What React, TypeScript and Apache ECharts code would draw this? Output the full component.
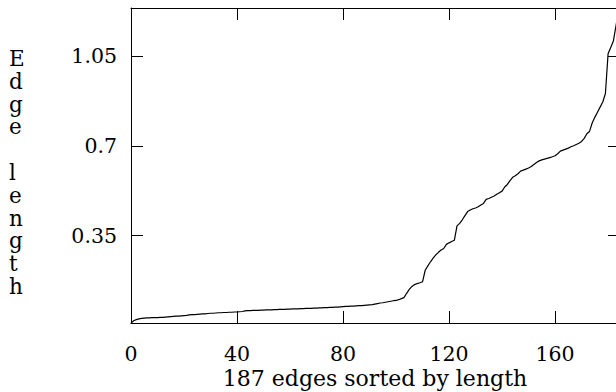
import React, { useEffect, useRef } from "react";
import * as echarts from "echarts";

const xTicks = [0, 40, 80, 120, 160];
const yTicks = [0.35, 0.7, 1.05];
const edgeLengths = [
  0.009, 0.018, 0.022, 0.025, 0.027, 0.028, 0.029, 0.029, 0.03, 0.03,
  0.03, 0.031, 0.031, 0.032, 0.033, 0.034, 0.035, 0.036, 0.036, 0.037,
  0.038, 0.039, 0.041, 0.042, 0.042, 0.043, 0.044, 0.045, 0.045, 0.046,
  0.047, 0.047, 0.048, 0.049, 0.049, 0.05, 0.05, 0.051, 0.051, 0.052,
  0.052, 0.053, 0.054, 0.056, 0.057, 0.057, 0.058, 0.058, 0.058, 0.059,
  0.059, 0.06, 0.06, 0.06, 0.061, 0.061, 0.062, 0.062, 0.062, 0.063,
  0.063, 0.064, 0.064, 0.064, 0.065, 0.065, 0.066, 0.066, 0.066, 0.067,
  0.067, 0.068, 0.068, 0.069, 0.069, 0.07, 0.07, 0.071, 0.071, 0.072,
  0.073, 0.074, 0.074, 0.075, 0.075, 0.076, 0.077, 0.077, 0.078, 0.079,
  0.08, 0.081, 0.083, 0.085, 0.087, 0.088, 0.09, 0.092, 0.094, 0.096,
  0.097, 0.1, 0.104, 0.108, 0.125, 0.14, 0.152, 0.159, 0.163, 0.166,
  0.17, 0.215, 0.232, 0.248, 0.262, 0.275, 0.285, 0.294, 0.3, 0.316,
  0.322, 0.327, 0.332, 0.388, 0.398, 0.412, 0.428, 0.444, 0.45, 0.455,
  0.458, 0.463, 0.47, 0.476, 0.492, 0.495, 0.5, 0.505, 0.512, 0.518,
  0.524, 0.54, 0.55, 0.565, 0.578, 0.584, 0.592, 0.602, 0.606, 0.61,
  0.614, 0.62, 0.628, 0.636, 0.642, 0.646, 0.649, 0.652, 0.655, 0.658,
  0.662, 0.67, 0.68, 0.684, 0.688, 0.692, 0.697, 0.701, 0.706, 0.711,
  0.718, 0.73, 0.748, 0.757, 0.79, 0.812, 0.832, 0.852, 0.872, 0.905,
  1.06, 1.085, 1.11, 1.17, 1.23, 1.29, 1.35,
];
const xTitle = "187 edges sorted by length";
const yTitle = "Edge length";

const FONT = "'DejaVu Serif', 'Liberation Serif', serif";

export default function App() {
  const ref = useRef<HTMLDivElement>(null);
  useEffect(() => {
    if (!ref.current) return;
    const chart = echarts.init(ref.current, undefined, { renderer: "svg" });
    const data = edgeLengths.map((v, i) => [i, v]);
    const axisLine = {
      show: true,
      onZero: false,
      lineStyle: { color: "#000", width: 1 },
    };
    const noLine = { show: false, onZero: false };
    const tick = (vals: number[], inside: boolean) => ({
      show: true,
      inside,
      length: 12,
      customValues: vals,
      lineStyle: { color: "#000", width: 1 },
    });
    const vertical = yTitle.split("").join("\n");
    const W = 489;
    const H = 315;
    const yBase = { type: "value", min: 0.009, max: 1.239, splitLine: { show: false } };
    const xBase = { type: "value", min: 0, max: 184.5, splitLine: { show: false } };
    chart.setOption({
      animation: false,
      backgroundColor: "#fff",
      grid: {
        left: 131,
        top: 8,
        width: W,
        height: H,
        containLabel: false,
        outerBoundsMode: "none",
      },
      xAxis: [
        {
          ...xBase,
          position: "bottom",
          axisLine,
          axisTick: tick(xTicks, true),
          axisLabel: {
            customValues: xTicks,
            color: "#000",
            fontFamily: FONT,
            fontSize: 20.5,
            margin: 20,
          },
        },
        {
          ...xBase,
          position: "top",
          axisLine,
          axisTick: tick(xTicks, true),
          axisLabel: { show: false },
        },
        {
          ...xBase,
          position: "bottom",
          offset: -H,
          axisLine: noLine,
          axisTick: tick(xTicks, false),
          axisLabel: { show: false },
        },
      ],
      yAxis: [
        {
          ...yBase,
          position: "left",
          axisLine,
          axisTick: tick(yTicks, true),
          axisLabel: {
            customValues: yTicks,
            color: "#000",
            fontFamily: FONT,
            fontSize: 20.5,
            margin: 14,
          },
        },
        {
          ...yBase,
          position: "right",
          axisLine,
          axisTick: tick(yTicks, true),
          axisLabel: { show: false },
        },
        {
          ...yBase,
          position: "right",
          offset: -W,
          axisLine: noLine,
          axisTick: tick(yTicks, false),
          axisLabel: { show: false },
        },
      ],
      graphic: [
        {
          type: "text",
          left: 9,
          top: 47,
          style: {
            text: vertical,
            fill: "#000",
            font: `21.5px ${FONT}`,
            lineHeight: 22.8,
            align: "center",
          },
        },
        {
          type: "text",
          x: 375,
          y: 378,
          style: {
            text: xTitle,
            fill: "#000",
            font: `22px ${FONT}`,
            align: "center",
            verticalAlign: "middle",
          },
        },
      ],
      series: [
        {
          type: "line",
          data,
          showSymbol: false,
          symbol: "none",
          clip: true,
          lineStyle: { color: "#000", width: 1.2 },
        },
      ],
    });
    return () => chart.dispose();
  }, []);
  return (
    <div
      ref={ref}
      style={{ position: "absolute", left: 0, top: 0, width: 616, height: 392 }}
    />
  );
}
